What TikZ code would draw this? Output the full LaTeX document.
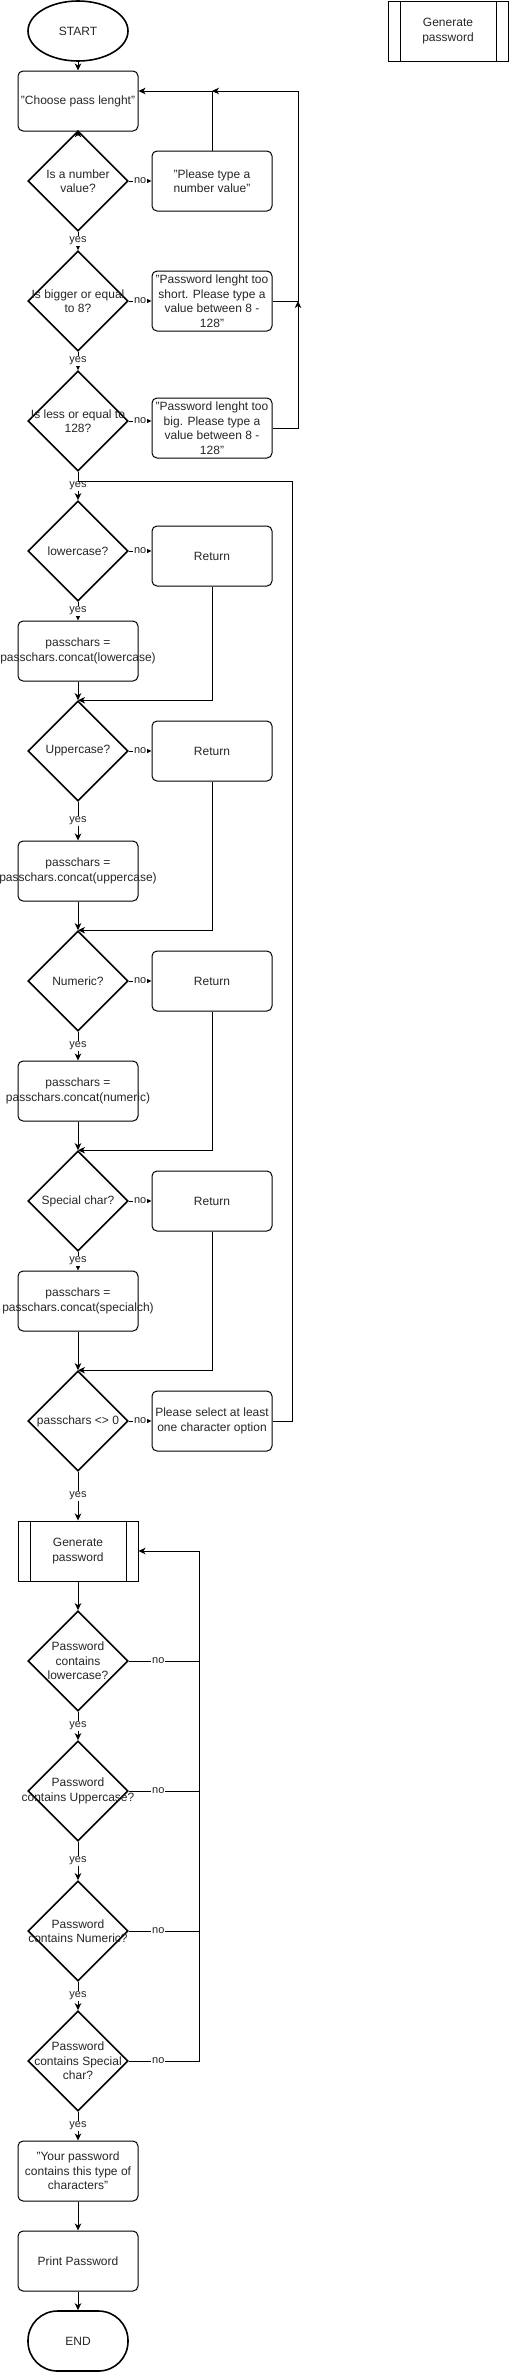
\documentclass[tikz,border=0pt]{standalone}
\usepackage{fontspec}
\setmainfont{Liberation Sans}
\usetikzlibrary{shapes.geometric,arrows.meta,positioning}

\begin{document}
\begin{tikzpicture}[
		x=1pt, y=-1pt,
		every node/.style={text=black!85},
		txt/.style={align=center, font=\fontsize{12}{14.5}\selectfont},
		proc/.style={draw, rounded corners=5pt, line width=1pt, minimum width=120pt, minimum height=60pt, inner sep=0pt, label={[txt]center:{#1}}},
		decision/.style={draw, diamond, line width=1.6pt, minimum width=100pt, minimum height=100pt, inner sep=0pt, label={[txt]center:{#1}}},
		subproc/.style={draw, line width=1pt, minimum width=120pt, minimum height=60pt, inner sep=0pt, label={[txt]center:{#1}},
			path picture={
				\draw[line width=1pt] ([xshift=12pt]path picture bounding box.north west) -- ([xshift=12pt]path picture bounding box.south west);
				\draw[line width=1pt] ([xshift=-12pt]path picture bounding box.north east) -- ([xshift=-12pt]path picture bounding box.south east);
			}},
		terminal/.style={draw, line width=1.6pt, minimum width=100pt, minimum height=60pt, inner sep=0pt, txt},
		lbl/.style={fill=white, inner sep=1pt, font=\fontsize{11}{13}\selectfont},
		arr/.style={-{Stealth[length=7pt,width=6.5pt,inset=2pt]}, line width=1pt},
		every path/.style={line width=1pt}
		]
		\useasboundingbox (0,0) rectangle (509,2372);
		
		\node[terminal, ellipse] (start) at (78,31) {START};
		\node[subproc={Generate\\password}] (genside) at (448,31) {};
		\node[proc={"Choose pass lenght"}] (choose) at (78,101) {};
		\node[decision={Is a number\\value?}] (d1) at (78,181) {};
		\node[proc={"Please type a\\number value"}] (msg1) at (212,181) {};
		\node[decision={Is bigger or equal\\to 8?}] (d2) at (78,301) {};
		\node[proc={"Password lenght too\\short. Please type a\\value between 8 -\\128"}] (short) at (212,301) {};
		\node[decision={Is less or equal to\\128?}] (d3) at (78,421) {};
		\node[proc={"Password lenght too\\big. Please type a\\value between 8 -\\128"}] (big) at (212,428) {};
		\node[decision={lowercase?}] (d4) at (78,551) {};
		\node[proc={Return}] (ret1) at (212,556) {};
		\node[proc={passchars =\\passchars.concat(lowercase)}] (p1) at (78,651) {};
		\node[decision={Uppercase?}] (d5) at (78,751) {};
		\node[proc={Return}] (ret2) at (212,751) {};
		\node[proc={passchars =\\passchars.concat(uppercase)}] (p2) at (78,871) {};
		\node[decision={Numeric?}] (d6) at (78,981) {};
		\node[proc={Return}] (ret3) at (212,981) {};
		\node[proc={passchars =\\passchars.concat(numeric)}] (p3) at (78,1091) {};
		\node[decision={Special char?}] (d7) at (78,1201) {};
		\node[proc={Return}] (ret4) at (212,1201) {};
		\node[proc={passchars =\\passchars.concat(specialch)}] (p4) at (78,1301) {};
		\node[decision={passchars <> 0}] (d8) at (78,1421) {};
		\node[proc={Please select at least\\one character option}] (sel) at (212,1421) {};
		\node[subproc={Generate\\password}] (gen) at (78,1551) {};
		\node[decision={Password\\contains\\lowercase?}] (c1) at (78,1661) {};
		\node[decision={Password\\contains Uppercase?}] (c2) at (78,1791) {};
		\node[decision={Password\\contains Numeric?}] (c3) at (78,1931) {};
		\node[decision={Password\\contains Special\\char?}] (c4) at (78,2061) {};
		\node[proc={"Your password\\contains this type of\\characters"}] (msg) at (78,2171) {};
		\node[proc={Print Password}] (print) at (78,2261) {};
		\node[terminal, rounded corners=29.5pt] (end) at (78,2341) {END};
		
		\coordinate (j1) at (212,91);
		\coordinate (r1) at (298,91);
		\coordinate (j2) at (78,481);
		\coordinate (r2) at (292,481);
		\coordinate (loop) at (199,1551);
		
		\draw[arr] (start) -- (choose);
		\draw[arr] (choose) -- (d1);
		\draw[arr] (d1) -- node[lbl]{no} (msg1);
		\draw[arr] (msg1) -- (j1) -- (choose.east |- j1);
		\draw[arr] (short) -| (r1) -- (j1);
		\draw[arr] (big) -| (short -| r1);
		\draw[arr] (d1) -- node[lbl]{yes} (d2);
		\draw[arr] (d2) -- node[lbl]{no} (short);
		\draw[arr] (d2) -- node[lbl]{yes} (d3);
		\draw[arr] (d3) -- node[lbl]{no} (big.west |- d3.east);
		\draw[arr] (d3) -- node[lbl]{yes} (d4);
		
		\draw[arr] (d4) -- node[lbl]{no} (ret1.west |- d4.east);
		\draw[arr] (ret1) |- (d5.north);
		\draw[arr] (d4) -- node[lbl]{yes} (p1);
		\draw[arr] (p1) -- (d5);
		\draw[arr] (d5) -- node[lbl]{no} (ret2);
		\draw[arr] (ret2) |- (d6.north);
		\draw[arr] (d5) -- node[lbl]{yes} (p2);
		\draw[arr] (p2) -- (d6);
		\draw[arr] (d6) -- node[lbl]{no} (ret3);
		\draw[arr] (ret3) |- (d7.north);
		\draw[arr] (d6) -- node[lbl]{yes} (p3);
		\draw[arr] (p3) -- (d7);
		\draw[arr] (d7) -- node[lbl]{no} (ret4);
		\draw[arr] (ret4) |- (d8.north);
		\draw[arr] (d7) -- node[lbl]{yes} (p4);
		\draw[arr] (p4) -- (d8);
		\draw[arr] (d8) -- node[lbl]{no} (sel);
		\draw (sel) -| (r2) -- (j2);
		\draw[arr] (d8) -- node[lbl]{yes} (gen);
		
		\draw[arr] (gen) -- (c1);
		\draw (c1.east) -- node[lbl, pos=0.42]{no} (c1.east -| loop);
		\draw (c2.east) -- node[lbl, pos=0.42]{no} (c2.east -| loop);
		\draw (c3.east) -- node[lbl, pos=0.42]{no} (c3.east -| loop);
		\draw[arr] (c4.east) -- node[lbl, pos=0.42]{no} (c4.east -| loop) -- (loop) -- (gen.east);
		\draw[arr] (c1) -- node[lbl]{yes} (c2);
		\draw[arr] (c2) -- node[lbl]{yes} (c3);
		\draw[arr] (c3) -- node[lbl]{yes} (c4);
		\draw[arr] (c4) -- node[lbl]{yes} (msg);
		\draw[arr] (msg) -- (print);
		\draw[arr] (print) -- (end);
\end{tikzpicture}
\end{document}
